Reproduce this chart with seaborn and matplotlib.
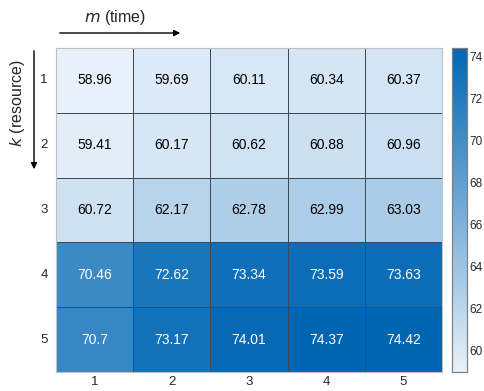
import numpy as np
import pandas as pd
import matplotlib
matplotlib.use('Agg')
import matplotlib.pyplot as plt
from matplotlib.colors import LinearSegmentedColormap
import seaborn as sns

# Data
m_labels = [1, 2, 3, 4, 5]   # time
k_labels = [1, 2, 3, 4, 5]   # resource
row1 = [58.96, 59.69, 60.11, 60.34, 60.37]
row2 = [59.41, 60.17, 60.62, 60.88, 60.96]
row3 = [60.72, 62.17, 62.78, 62.99, 63.03]
row4 = [70.46, 72.62, 73.34, 73.59, 73.63]
row5 = [70.7, 73.17, 74.01, 74.37, 74.42]

df = pd.DataFrame([row1, row2, row3, row4, row5], index=k_labels, columns=m_labels)

sns.set_style("white")
plt.rcParams['font.family'] = ['Liberation Sans', 'DejaVu Sans']

# MATLAB-like blue heatmap colormap
cmap = LinearSegmentedColormap.from_list("mblue", ["#e8f1fa", "#0066b3"])

fig = plt.figure(figsize=(4.85, 3.91), dpi=100)
ax = fig.add_axes([56 / 485, 1 - 372 / 391, (442 - 56) / 485, (372 - 48) / 391])
cax = fig.add_axes([452 / 485, 1 - 372 / 391, 15 / 485, (372 - 48) / 391])

vmin, vmax = df.values.min(), df.values.max()
mid = (vmin + vmax) / 2
annot = df.map(lambda v: f"{v:g}")

sns.heatmap(df, ax=ax, cbar_ax=cax, cmap=cmap, vmin=vmin, vmax=vmax,
            annot=annot, fmt="", linewidths=0.6, linecolor="#3c4a58",
            annot_kws={"fontsize": 10})

# text colour: black on light cells, white on dark cells
for t, v in zip(ax.texts, df.values.flatten()):
    t.set_color("white" if v > mid else "black")

ax.tick_params(axis='y', length=0, labelsize=9.5, colors="#262626", pad=6)
ax.tick_params(axis='x', length=0, labelsize=9.5, colors="#262626", pad=3)
ax.set_yticklabels(k_labels, rotation=0)
ax.set_xticklabels(m_labels, rotation=0)
ax.set_xlabel("")
ax.set_ylabel("")
for s in ax.spines.values():
    s.set_visible(True)
    s.set_color("#c0c0c0")
    s.set_linewidth(0.8)

# colorbar styling
cax.tick_params(direction='in', length=3, width=0.6, labelsize=8.5, pad=2,
                colors="#262626", right=True, left=False)
cax.set_yticks([60, 62, 64, 66, 68, 70, 72, 74])
for s in cax.spines.values():
    s.set_visible(True)
    s.set_color("#808080")
    s.set_linewidth(0.8)

# axis annotations with arrows
fig.text(0.237, 0.955, "$m$ (time)", fontsize=11.5, ha='center', va='center')
fig.patches.append(matplotlib.patches.FancyArrowPatch(
    (57 / 485, 1 - 33 / 391), (183 / 485, 1 - 33 / 391),
    transform=fig.transFigure, arrowstyle='-|>', mutation_scale=9,
    color='black', linewidth=1))
fig.text(18 / 485, 1 - 103 / 391, "$k$ (resource)", fontsize=11.5,
         rotation=90, ha='center', va='center')
fig.patches.append(matplotlib.patches.FancyArrowPatch(
    (34 / 485, 1 - 48 / 391), (34 / 485, 1 - 172 / 391),
    transform=fig.transFigure, arrowstyle='-|>', mutation_scale=9,
    color='black', linewidth=1))

fig.savefig("out.png", dpi=100)
